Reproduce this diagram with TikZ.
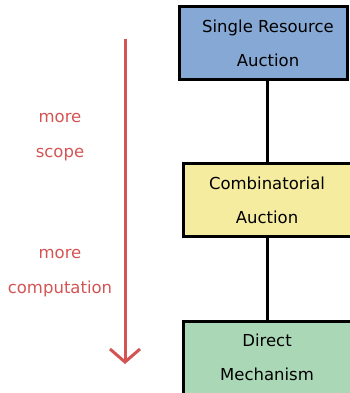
\documentclass[tikz,border=0pt]{standalone}
\usepackage{fontspec}
\setmainfont{DejaVu Sans}
\usetikzlibrary{arrows.meta}
\definecolor{boxblue}{RGB}{134,168,213}
\definecolor{boxyellow}{RGB}{245,236,160}
\definecolor{boxgreen}{RGB}{170,216,182}
\definecolor{scopered}{RGB}{212,84,84}
\begin{document}
\begin{tikzpicture}[x=1pt,y=-1pt,
  mech/.style={draw,line width=3pt,minimum width=168pt,minimum height=73pt,inner sep=0pt,align=center,font=\fontsize{16.5}{34}\selectfont},
  side/.style={text=scopered,align=center,font=\fontsize{16.5}{35}\selectfont}]
\useasboundingbox(0,0)rectangle(350,393);\clip(0,0)rectangle(350,393);
% mechanisms, top to bottom
\node[mech,fill=boxblue](single)at(263,43.5){\hspace*{10pt}Single Resource\\\hspace*{10pt}Auction};
\node[mech,fill=boxyellow](comb)at(267,200){Combinatorial\\Auction};
\node[mech,fill=boxgreen](direct)at(267,357.5){Direct\\Mechanism};
\draw[line width=3pt](comb.north)--(comb.north|-single.south);
\draw[line width=3pt](comb.south)--(direct.north);
% trade-off arrow
\coordinate(top)at(125,39);\coordinate(tip)at(125,364);
\draw[scopered,line width=3pt,-{Straight Barb[length=13pt,width=30pt]}](top)--(tip);
\node[side](scope)at(60,137){more\\scope};
\node[side](comp)at(60,273.5){more\\computation};
\end{tikzpicture}
\end{document}
